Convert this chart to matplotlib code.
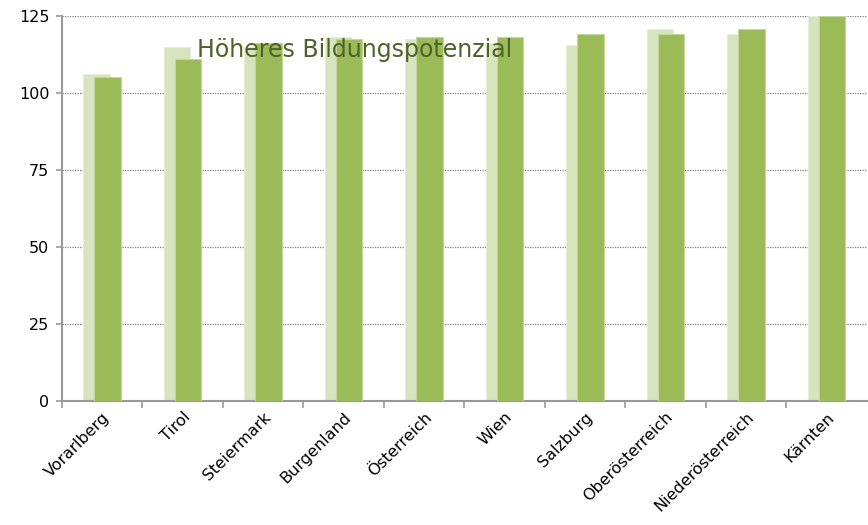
import numpy as np
import matplotlib.pyplot as plt
import matplotlib as mpl
import matplotlib.transforms as mtransforms

mpl.rcParams['font.family'] = 'DejaVu Sans'

regionen = ['Vorarlberg', 'Tirol', 'Steiermark', 'Burgenland', 'Österreich',
            'Wien', 'Salzburg', 'Oberösterreich', 'Niederösterreich', 'Kärnten']
hell = [106.2, 114.9, 115.0, 118.2, 117.5, 116.2, 115.6, 120.8, 119.2, 125.0]
dunkel = [105.2, 111.0, 116.2, 117.5, 118.2, 118.2, 119.2, 119.2, 120.8, 125.0]
yticks = [0, 25, 50, 75, 100, 125]

fig = plt.figure(figsize=(8.68, 5.25), dpi=100)
ax = fig.add_axes([0.0714, 0.236, 0.927, 0.7335])

x = np.arange(len(regionen))
ax.bar(x - 0.068, hell, width=0.33, color='#D7E4BD', edgecolor='#E6EFD6', linewidth=0.8, zorder=2)
ax.bar(x + 0.068, dunkel, width=0.33, color='#9BBB59', edgecolor='#C3D69B', linewidth=0.8, zorder=3)

ax.set_xlim(-0.5, 9.5)
ax.set_ylim(0, 125)
ax.set_yticks(yticks)
for v in yticks[1:]:
    ax.axhline(v, color='#808080', linestyle=(0, (1, 1)), linewidth=0.9, zorder=1)

# Ticks an den Kategoriegrenzen, Beschriftung in der Mitte
ax.set_xticks(x - 0.5, minor=False)
ax.set_xticklabels([])
ax.set_xticks(x, minor=True)
ax.set_xticklabels(regionen, minor=True, rotation=45, ha='right', rotation_mode='anchor', fontsize=11.5)
ax.tick_params(axis='x', which='minor', length=0, pad=6)
ax.tick_params(axis='x', which='major', length=5, color='#999999', width=1.2)
ax.tick_params(axis='y', length=4, color='#999999', width=1.2, labelsize=11.5, pad=5)

for s in ['top', 'right']:
    ax.spines[s].set_visible(False)
for s in ['left', 'bottom']:
    ax.spines[s].set_color('#999999')
    ax.spines[s].set_linewidth(1.5)

trans = mtransforms.blended_transform_factory(ax.transAxes, ax.transData)
ax.text(0.364, 114, 'Höheres Bildungspotenzial', transform=trans,
        fontsize=17, color='#4F6228', ha='center', va='center', zorder=5)

plt.savefig('out.png', dpi=100)
